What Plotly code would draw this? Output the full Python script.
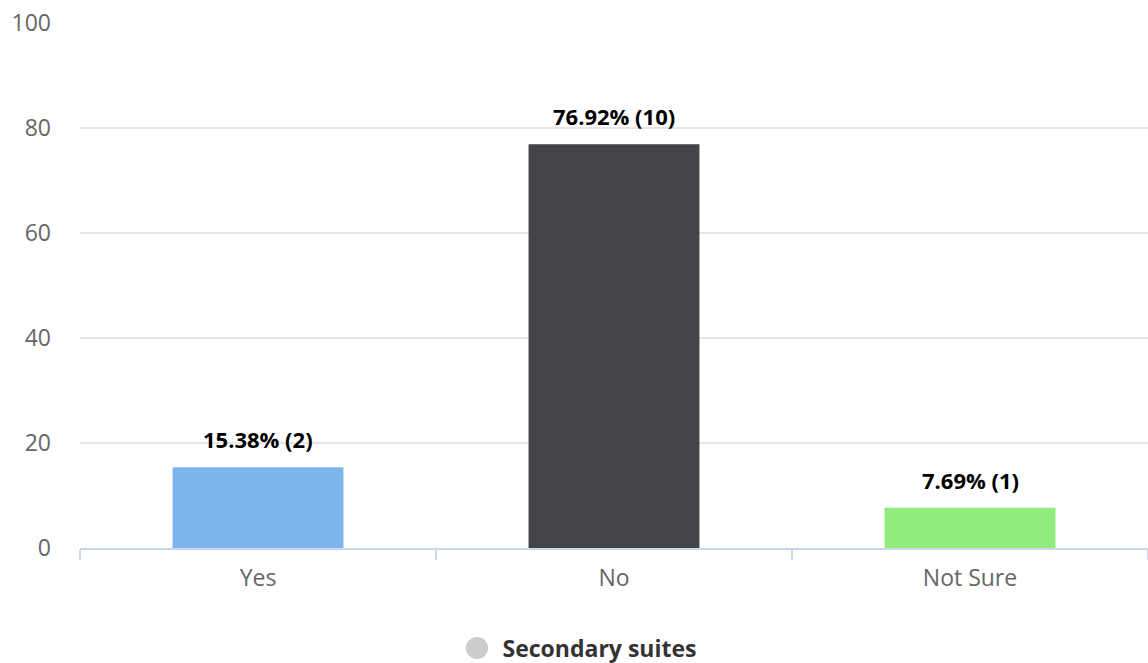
import plotly.graph_objects as go

categories = ["Yes", "No", "Not Sure"]
percentages = [15.38, 76.92, 7.69]
counts = [2, 10, 1]
bar_colors = ["#7cb5ec", "#434348", "#90ed7d"]
series_name = "Secondary suites"
y_ticks = [0, 20, 40, 60, 80, 100]

font_family = "Open Sans, Noto Sans, sans-serif"

# plot area geometry in pixels (used to place the large legend dot)
fig_w, fig_h = 1148, 663
m_l, m_r, m_t, m_b = 80, 0, 23, 115
plot_w = fig_w - m_l - m_r
plot_h = fig_h - m_t - m_b

fig = go.Figure()

fig.add_trace(go.Bar(
    x=categories,
    y=percentages,
    marker=dict(color=bar_colors, line=dict(width=0)),
    width=0.48,
    showlegend=False,
    hoverinfo="x+y",
))

# Legend entry for the series; its symbol is drawn as a larger dot below
fig.add_trace(go.Scatter(
    x=[None], y=[None],
    mode="markers",
    marker=dict(symbol="circle", color="rgba(0,0,0,0)", size=16),
    name=f"<b>{series_name}</b>",
    showlegend=True,
))

# Grey legend dot
dot_cx, dot_cy = 477, 648
fig.add_shape(
    type="circle",
    xref="paper", yref="paper",
    xsizemode="pixel", ysizemode="pixel",
    xanchor=(dot_cx - m_l) / plot_w,
    yanchor=1 - (dot_cy - m_t) / plot_h,
    x0=-11, x1=11, y0=-11, y1=11,
    fillcolor="#cccccc",
    line=dict(width=0),
    layer="above",
)

# Value labels above each bar
for cat, pct, cnt in zip(categories, percentages, counts):
    fig.add_annotation(
        x=cat, y=pct,
        text=f"<b>{pct:.2f}% ({cnt})</b>",
        showarrow=False,
        yanchor="bottom",
        yshift=11,
        font=dict(family=font_family, size=22, color="#000000"),
    )

fig.update_layout(
    width=fig_w, height=fig_h,
    margin=dict(l=m_l, r=m_r, t=m_t, b=m_b),
    paper_bgcolor="#ffffff",
    plot_bgcolor="#ffffff",
    font=dict(family=font_family, size=23, color="#666666"),
    bargap=0.52,
    legend=dict(
        orientation="h",
        xref="container", yref="container",
        x=0.507, xanchor="center",
        y=0.023, yanchor="middle",
        bgcolor="rgba(0,0,0,0)",
        font=dict(family=font_family, size=23, color="#333333"),
    ),
    xaxis=dict(
        showline=True,
        linecolor="#ccd6eb",
        linewidth=1.5,
        ticks="outside",
        tickson="boundaries",
        ticklen=10,
        tickcolor="#ccd6eb",
        tickwidth=1.5,
        showgrid=False,
        tickfont=dict(size=23, color="#666666"),
        ticklabelstandoff=9,
        fixedrange=True,
    ),
    yaxis=dict(
        range=[0, 100],
        tickvals=y_ticks,
        showgrid=True,
        gridcolor="#e6e6e6",
        gridwidth=1.5,
        zeroline=False,
        showline=False,
        tickfont=dict(size=23, color="#666666"),
        ticklabelstandoff=28,
        fixedrange=True,
    ),
)

fig.write_html("out.html")
